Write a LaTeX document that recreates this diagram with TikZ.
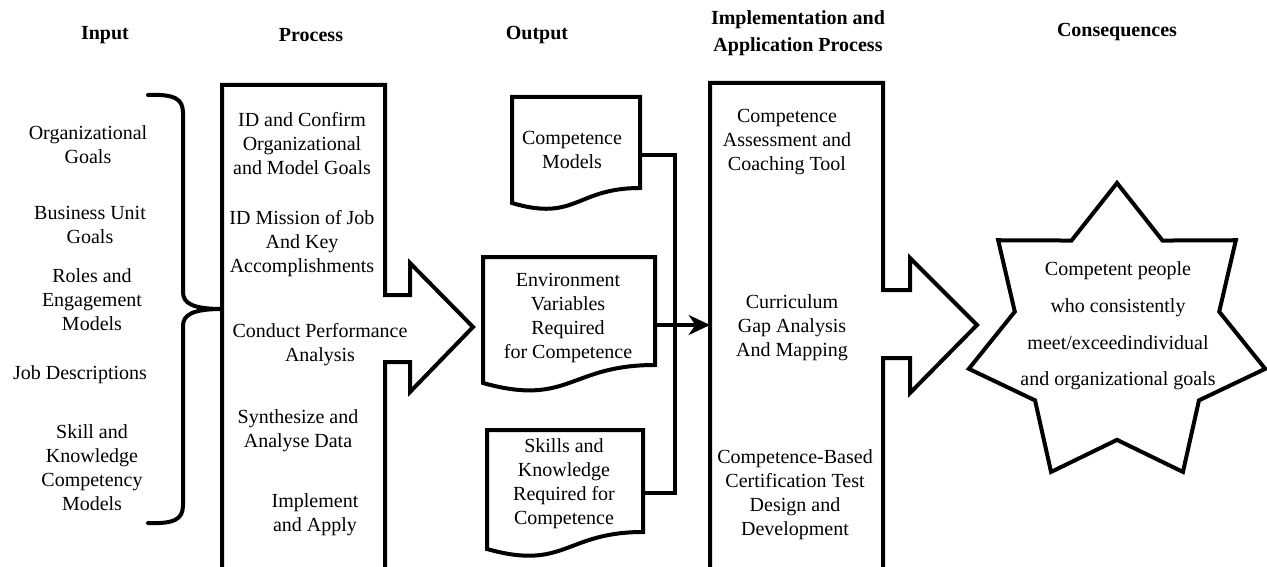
\documentclass[tikz,border=0pt]{standalone}
\usepackage{fontspec}
\setmainfont{Liberation Serif}
\usetikzlibrary{arrows.meta,shapes.geometric}

\begin{document}
\begin{tikzpicture}[x=0.75pt,y=0.75pt,yscale=-1,xscale=1,
  txt/.style={align=center,inner sep=0.75pt,font=\fontsize{15}{18}\selectfont},
  head/.style={align=center,inner sep=0.75pt,font=\bfseries\fontsize{15}{20}\selectfont},
  frm/.style={line width=3pt,line join=miter}]
\useasboundingbox (0,0) rectangle (1267,567);

% column heads
\node[head] (hin) at (105,35) {Input};
\node[head] (hpro) at (311,35) {Process};
\node[head] (hout) at (537,35) {Output};
\node[head] (himp) at (798,33) {Implementation and\\Application Process};
\node[head] (hcon) at (1117,32) {Consequences};

% input list and brace
\node[txt] (in1) at (88,145) {Organizational\\Goals};
\node[txt] (in2) at (90,225) {Business Unit\\Goals};
\node[txt] (in3) at (92,300) {Roles and\\Engagement\\Models};
\node[txt] (in4) at (80,375) {Job Descriptions};
\node[txt] (in5) at (92,468) {Skill and\\Knowledge\\Competency\\Models};
\coordinate (brtip) at (222,309);
\draw[frm,line cap=round] (148,95) .. controls (175,94) and (183,99) .. (183,113) -- (183,292) .. controls (183,303) and (192,309) .. (brtip) ;
\draw[frm,line cap=round] (brtip) .. controls (192,309) and (183,315) .. (183,326) -- (183,505) .. controls (183,519) and (175,524) .. (148,523) ;

% process block arrow
\draw[frm] (222,580) -- (222,85) -- (385,85) -- (385,295) -- (410,295) -- (410,263) -- (473,327) -- (410,392) -- (410,362) -- (385,362) -- (385,580) -- cycle ;
\node[txt] (p1) at (302,144) {ID and Confirm\\Organizational\\and Model Goals};
\node[txt] (p2) at (302,244) {ID Mission of Job\\And Key\\Accomplishments};
\node[txt] (p3) at (320,345) {Conduct Performance\\Analysis};
\node[txt] (p4) at (298,431) {Synthesize and\\Analyse Data};
\node[txt] (p5) at (315,515) {Implement\\and Apply};

% output documents
\draw[frm] (512,97) -- (640,97) -- (640,188) .. controls (576,188) and (576,222) .. (512,203) -- cycle ;
\draw[frm] (483,257) -- (655,257) -- (655,365) .. controls (569,365) and (569,407) .. (483,383) -- cycle ;
\draw[frm] (487,430) -- (643,430) -- (643,532) .. controls (565,532) and (565,571) .. (487,549) -- cycle ;
\node[txt] (o1) at (572,150) {Competence\\Models};
\node[txt] (o2) at (568,318) {Environment\\Variables\\Required\\for Competence};
\node[txt] (o3) at (564,484) {Skills and\\Knowledge\\Required for\\Competence};
\coordinate (o1e) at (640,155);
\coordinate (o2e) at (655,325);
\coordinate (o3e) at (643,493);
\coordinate (bus1) at (675,155);
\coordinate (bus3) at (675,493);
\coordinate (m2w) at (710,325);
\draw[frm] (o1e) -- (bus1) -- (bus3) -- (o3e) ;
\draw[frm,-{Stealth[length=16pt,width=15pt,inset=5pt]}] (o2e) -- (m2w) ;

% implementation block arrow
\draw[frm] (710,580) -- (710,83) -- (883,83) -- (883,290) -- (910,290) -- (910,258) -- (977,325) -- (910,393) -- (910,358) -- (883,358) -- (883,580) -- cycle ;
\node[txt] (m1) at (787,142) {Competence\\Assessment and\\Coaching Tool};
\node[txt] (m2) at (792,328) {Curriculum\\Gap Analysis\\And Mapping};
\node[txt] (m3) at (795,495) {Competence-Based\\Certification Test\\Design and\\Development};

% consequences
\node[frm,draw,star,star points=7,star point ratio=1.45,minimum size=228pt,inner sep=0pt] (goal) at (1117,335) {};
\node[txt,font=\fontsize{15}{27.5}\selectfont] (goaltxt) at (1118,326) {Competent people\\who consistently\\meet/exceedindividual\\and organizational goals};
\end{tikzpicture}
\end{document}
